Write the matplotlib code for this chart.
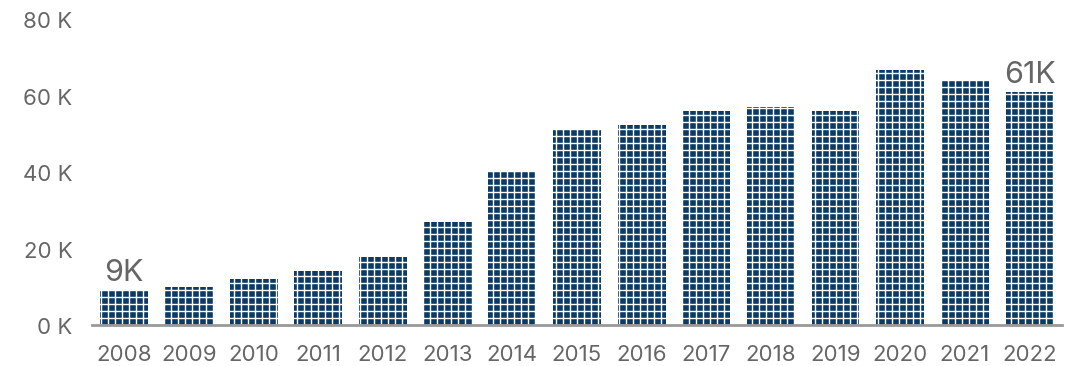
import matplotlib.pyplot as plt

years = [str(y) for y in range(2008, 2023)]
values = [8.9, 9.9, 12.0, 14.0, 17.8, 27.0, 40.2, 51.2, 52.2, 56.0, 57.0, 56.0, 66.6, 63.7, 60.8]
y_ticks = [0, 20, 40, 60, 80]
y_tick_labels = ["0 K", "20 K", "40 K", "60 K", "80 K"]
end_labels = {0: "9K", 14: "61K"}

navy = "#0b3a66"
grey = "#666666"

# hatch spacing is tied to dpi, so render at 84 dpi and scale sizes to match 100 dpi
DPI = 84
S = 100 / DPI

plt.rcParams["font.family"] = ["Inter", "DejaVu Sans"]
plt.rcParams["hatch.linewidth"] = 1.0 * S
plt.rcParams["hatch.color"] = "white"

fig = plt.figure(figsize=(1091 / DPI, 367 / DPI), dpi=DPI)
ax = fig.add_axes([0.0843, 0.1117, 0.889, 0.8338])

x = list(range(len(years)))
# bars get a white grid over them to mimic the pictogram fill
ax.bar(x, values, width=0.74, facecolor=navy, edgecolor="white", linewidth=0,
       hatch="++", zorder=2)

for i, txt in end_labels.items():
    ax.text(x[i], values[i] + 1.2, txt, ha="center", va="bottom",
            fontsize=22 * S, color=grey)

ax.set_xlim(-0.5, len(years) - 0.5)
ax.set_ylim(0, 80)
ax.set_xticks(x)
ax.set_xticklabels(years, fontsize=16 * S, color=grey)
ax.set_yticks(y_ticks)
ax.set_yticklabels(y_tick_labels, fontsize=16 * S, color=grey)
ax.tick_params(axis="x", length=0, pad=14 * S)
ax.tick_params(axis="y", length=0, pad=14 * S)

for side in ["top", "right", "left"]:
    ax.spines[side].set_visible(False)
ax.spines["bottom"].set_color("#999999")
ax.spines["bottom"].set_linewidth(2 * S)

fig.savefig("out.png", dpi=DPI)
